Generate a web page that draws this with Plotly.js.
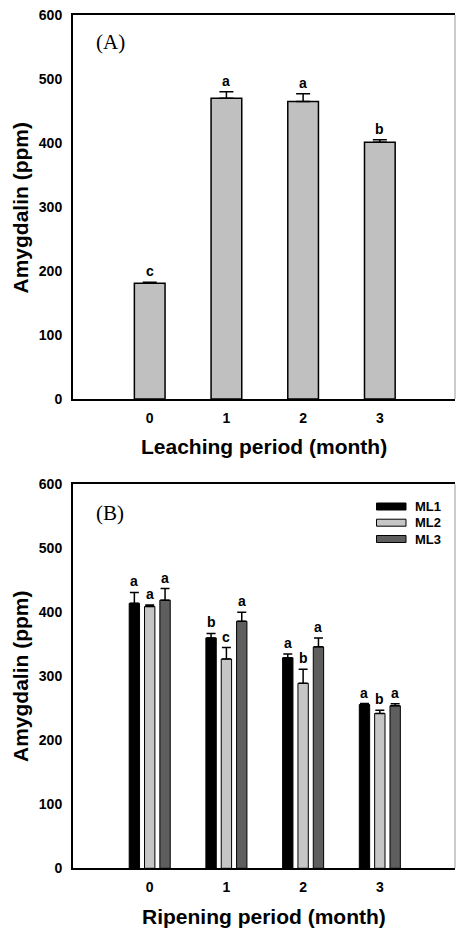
<!DOCTYPE html>
<html>
<head>
<meta charset="utf-8">
<script src="https://cdn.plot.ly/plotly-3.0.1.min.js"></script>
<style>html,body{margin:0;padding:0;background:#fff;}#chart{width:456px;height:929px;}</style>
</head>
<body>
<div id="chart"></div>
<script>
// ---- Data ----
var months = [0, 1, 2, 3];
var leachMean = [181, 470, 465, 401];
var leachErr = [1.5, 10, 12, 4];
var leachLetters = ['c', 'a', 'a', 'b'];

var seriesNames = ['ML1', 'ML2', 'ML3'];
var ml1Mean = [414, 360, 329, 256];
var ml1Err = [17, 7, 6, 1.5];
var ml1Letters = ['a', 'b', 'a', 'a'];
var ml2Mean = [409, 327, 289, 242];
var ml2Err = [2.5, 18, 22, 5];
var ml2Letters = ['a', 'c', 'b', 'b'];
var ml3Mean = [419, 386, 346, 254];
var ml3Err = [18, 14, 14, 3];
var ml3Letters = ['a', 'a', 'a', 'a'];

var yTicks = [0, 100, 200, 300, 400, 500, 600];

// ---- Layout helpers (pixel -> paper) ----
var W = 456, H = 929, L = 73, R = 1;
var PW = W - L - R;
function px(x) { return (x - L) / PW; }
function py(y) { return (H - y) / H; }

var sans = 'Liberation Sans, Arial, sans-serif';
var serif = 'Liberation Serif, Times New Roman, serif';

var ripColors = ['#000000', '#c6c6c6', '#5e5e5e'];
var ripMeans = [ml1Mean, ml2Mean, ml3Mean];
var ripErrs = [ml1Err, ml2Err, ml3Err];
var ripLetters = [ml1Letters, ml2Letters, ml3Letters];
var slot = 0.2, bw = 0.135;

var traces = [];
traces.push({
  type: 'bar', x: months, y: leachMean, xaxis: 'x', yaxis: 'y',
  width: 0.4,
  marker: {color: '#c0c0c0', line: {color: '#000', width: 1.5}},
  error_y: {type: 'data', array: leachErr, arrayminus: leachErr.map(function(){return 0;}),
            symmetric: false, color: '#000', thickness: 1.5, width: 7},
  showlegend: false, hoverinfo: 'y'
});
for (var s = 0; s < 3; s++) {
  var center = (s - 1) * slot;
  traces.push({
    type: 'bar', name: seriesNames[s], x: months, y: ripMeans[s], xaxis: 'x2', yaxis: 'y2',
    width: bw, offset: center - bw / 2,
    marker: {color: ripColors[s], line: {color: '#000', width: 1}},
    error_y: {type: 'data', array: ripErrs[s], arrayminus: ripErrs[s].map(function(){return 0;}),
              symmetric: false, color: '#000', thickness: 1.5, width: 4.5},
    showlegend: false, hoverinfo: 'y'
  });
}

var annotations = [];
// letters panel A
for (var i = 0; i < months.length; i++) {
  annotations.push({x: months[i], y: leachMean[i] + leachErr[i], xref: 'x', yref: 'y',
    text: leachLetters[i], showarrow: false, yanchor: 'bottom', yshift: 1,
    font: {family: sans, size: 14, color: '#000', weight: 'bold'}});
}
// letters panel B
for (var s2 = 0; s2 < 3; s2++) {
  for (var j = 0; j < months.length; j++) {
    annotations.push({x: months[j] + (s2 - 1) * slot, y: ripMeans[s2][j] + ripErrs[s2][j],
      xref: 'x2', yref: 'y2', text: ripLetters[s2][j], showarrow: false, yanchor: 'bottom', yshift: 1,
      font: {family: sans, size: 14, color: '#000', weight: 'bold'}});
  }
}
// panel labels
annotations.push({x: px(94), y: py(42), xref: 'paper', yref: 'paper', text: '(A)', showarrow: false,
  xanchor: 'left', yanchor: 'middle', font: {family: serif, size: 21, color: '#000'}});
annotations.push({x: px(94), y: py(513), xref: 'paper', yref: 'paper', text: '(B)', showarrow: false,
  xanchor: 'left', yanchor: 'middle', font: {family: serif, size: 21, color: '#000'}});
// axis titles
annotations.push({x: px(264), y: py(446.5), xref: 'paper', yref: 'paper', text: 'Leaching period (month)',
  showarrow: false, xanchor: 'center', yanchor: 'middle', font: {family: sans, size: 21, color: '#000', weight: 'bold'}});
annotations.push({x: px(264), y: py(916.5), xref: 'paper', yref: 'paper', text: 'Ripening period (month)',
  showarrow: false, xanchor: 'center', yanchor: 'middle', font: {family: sans, size: 21, color: '#000', weight: 'bold'}});
annotations.push({x: px(20), y: py(207.5), xref: 'paper', yref: 'paper', text: 'Amygdalin (ppm)', textangle: -90,
  showarrow: false, xanchor: 'center', yanchor: 'middle', font: {family: sans, size: 21, color: '#000', weight: 'bold'}});
annotations.push({x: px(20), y: py(676), xref: 'paper', yref: 'paper', text: 'Amygdalin (ppm)', textangle: -90,
  showarrow: false, xanchor: 'center', yanchor: 'middle', font: {family: sans, size: 21, color: '#000', weight: 'bold'}});

// legend (drawn)
var shapes = [];
var legY = [506.5, 522.7, 539];
for (var k = 0; k < 3; k++) {
  shapes.push({type: 'rect', xref: 'paper', yref: 'paper', x0: px(376.5), x1: px(406), y0: py(legY[k] - 3.5), y1: py(legY[k] + 3.5),
    fillcolor: ripColors[k], line: {color: '#000', width: 1}});
  annotations.push({x: px(413), y: py(legY[k]), xref: 'paper', yref: 'paper', text: seriesNames[k], showarrow: false,
    xanchor: 'left', yanchor: 'middle', font: {family: sans, size: 13, color: '#000', weight: 'bold'}});
}
// thin right frame edges
shapes.push({type: 'line', xref: 'paper', yref: 'paper', x0: 1, x1: 1, y0: py(399), y1: py(15), line: {color: '#999', width: 1}});
shapes.push({type: 'line', xref: 'paper', yref: 'paper', x0: 1, x1: 1, y0: py(868.3), y1: py(484.3), line: {color: '#999', width: 1}});

function xax(domainAnchor) {
  return {range: [-1, 3.98], tickvals: months, ticktext: months.map(String), showgrid: false, zeroline: false,
    showline: true, linecolor: '#000', linewidth: 2, mirror: true, ticks: '', ticklabelstandoff: 5, fixedrange: true,
    tickfont: {family: sans, size: 14, color: '#000', weight: 'bold'}, anchor: domainAnchor};
}
function yax(dom, anchor) {
  return {domain: dom, range: [0, 600], tickvals: yTicks, showgrid: false, zeroline: false,
    showline: true, linecolor: '#000', linewidth: 2, ticks: '', ticklabelstandoff: 6, fixedrange: true,
    tickfont: {family: sans, size: 14, color: '#000', weight: 'bold'}, anchor: anchor};
}

var layout = {
  width: W, height: H,
  margin: {l: L, r: R, t: 0, b: 0},
  paper_bgcolor: '#fff', plot_bgcolor: '#fff',
  showlegend: false,
  xaxis: xax('y'),
  yaxis: yax([py(399), py(15)], 'x'),
  xaxis2: xax('y2'),
  yaxis2: yax([py(868.3), py(484.3)], 'x2'),
  annotations: annotations,
  shapes: shapes
};

Plotly.newPlot('chart', traces, layout, {displayModeBar: false, staticPlot: true});
</script>
</body>
</html>
